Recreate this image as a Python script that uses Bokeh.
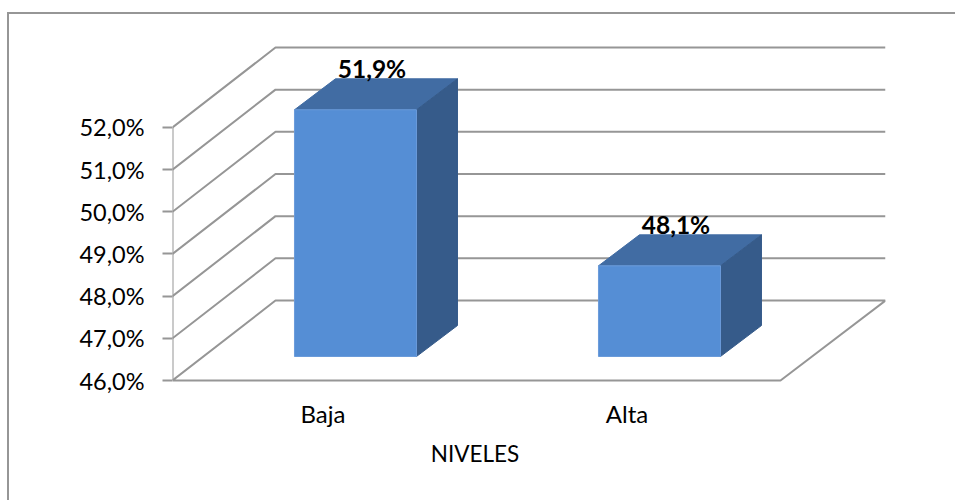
from bokeh.plotting import figure
from bokeh.models import Range1d, FixedTicker, Label, LinearAxis
from bokeh.embed import file_html
from bokeh.resources import INLINE

categories = ["Baja", "Alta"]
values = [51.85, 48.15]
tick_values = [46, 47, 48, 49, 50, 51, 52]
tick_labels = ["46,0%", "47,0%", "48,0%", "49,0%", "50,0%", "51,0%", "52,0%"]
value_labels = ["51,9%", "48,1%"]
axis_title = "NIVELES"

W, H = 955, 500
PX_L, PX_R, PX_T, PX_B = 172, 885, 13, 388   # plot frame on the canvas
PX_FLOOR = 380                                # canvas y of 46 %
PX_FLOOR_R = 780                              # canvas x of the floor's front right corner
PX_PER_PCT = 42.17
PX_PER_CAT = 304.0
FONT = "Lato"
GREY = "#969696"

base = tick_values[0]
x0 = 0.505
x1 = x0 + (PX_R - PX_L) / PX_PER_CAT
y_lo = base - (PX_B - PX_FLOOR) / PX_PER_PCT
y_hi = base + (PX_FLOOR - PX_T) / PX_PER_PCT

bar = "linear-gradient(%s,%s)" % (GREY, GREY)
frame_css = "%s 7px 12px / 2px 100%% no-repeat, %s 7px 12px / 100%% 2px no-repeat" % (bar, bar)

p = figure(width=W, height=H, output_backend="svg", toolbar_location=None,
           x_range=Range1d(x0, x1), y_range=Range1d(y_lo, y_hi),
           min_border_left=PX_L, min_border_right=W - PX_R,
           min_border_top=PX_T, min_border_bottom=H - PX_B,
           styles={"background": frame_css})
p.outline_line_color = None
p.grid.visible = False
p.background_fill_color = None
p.border_fill_color = None

dx_wall = 103 / PX_PER_CAT
dy_wall = 80 / PX_PER_PCT
dx_bar = 41 / PX_PER_CAT
dy_bar = 31 / PX_PER_PCT
bar_dx = 32.5 / PX_PER_CAT
bar_dy = 24 / PX_PER_PCT
half_w = 61 / PX_PER_CAT

for v in tick_values[1:]:
    p.line([x0, x0 + dx_wall, x1], [v, v + dy_wall, v + dy_wall], line_color=GREY, line_width=2)
floor_r = x0 + (PX_FLOOR_R - PX_L) / PX_PER_CAT
p.line([x0, x0 + dx_wall, x1, floor_r, x0],
       [base, base + dy_wall, base + dy_wall, base, base], line_color=GREY, line_width=2)
p.line([x0, x0], [base, tick_values[-1]], line_color=GREY, line_width=2)

xs = [1, 2]
for i, (cx, v) in enumerate(zip(xs, values)):
    l = cx - half_w + bar_dx
    r = cx + half_w + bar_dx
    b = base + bar_dy
    t = v + bar_dy
    p.patch([l, r, r + dx_bar, l + dx_bar], [t, t, t + dy_bar, t + dy_bar],
            fill_color="#416CA3", line_color="#416CA3", line_width=1)
    p.patch([r, r + dx_bar, r + dx_bar, r], [b, b + dy_bar, t + dy_bar, t],
            fill_color="#365B8A", line_color="#365B8A", line_width=1)
    p.quad(left=l, right=r, bottom=b, top=t, fill_color="#558ED5", line_color="#6A9BDA", line_width=1)
    p.add_layout(Label(x=cx + 49 / PX_PER_CAT, y=t + dy_bar, text=value_labels[i],
                       text_font=FONT, text_font_style="bold", text_font_size="24.5px",
                       text_align="center", text_baseline="middle", y_offset=10, text_color="black"))

xa = p.xaxis[0]
xa.ticker = FixedTicker(ticks=xs)
xa.major_label_overrides = {x: c for x, c in zip(xs, categories)}
xa.major_tick_line_color = None
xa.minor_tick_line_color = None
xa.axis_line_color = None
xa.major_label_text_font = FONT
xa.major_label_text_font_size = "24px"
xa.major_label_text_color = "black"
xa.major_label_standoff = 4

title_axis = LinearAxis(ticker=FixedTicker(ticks=[1.5]),
                        major_label_overrides={1.5: axis_title},
                        major_tick_line_color=None, minor_tick_line_color=None, axis_line_color=None,
                        major_label_text_font=FONT, major_label_text_font_size="22.5px",
                        major_label_text_color="black", major_label_standoff=3)
p.add_layout(title_axis, "below")

ya = p.yaxis[0]
ya.ticker = FixedTicker(ticks=tick_values)
ya.major_label_overrides = {v: s for v, s in zip(tick_values, tick_labels)}
ya.axis_line_color = None
ya.minor_tick_line_color = None
ya.major_tick_line_color = GREY
ya.major_tick_line_width = 2
ya.major_tick_out = 10
ya.major_tick_in = 0
ya.major_label_text_font = FONT
ya.major_label_text_font_size = "23.5px"
ya.major_label_text_color = "black"
ya.major_label_standoff = 18

open("out.html", "w").write(file_html(p, INLINE))
